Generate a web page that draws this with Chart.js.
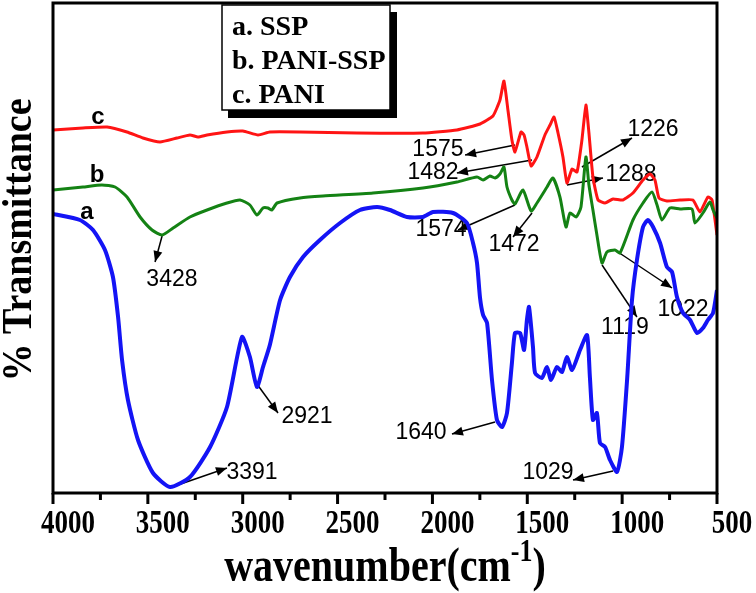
<!DOCTYPE html>
<html>
<head>
<meta charset="utf-8">
<script src="https://cdn.jsdelivr.net/npm/chart.js@4"></script>
<style>
  body { margin: 0; background: #fff; }
  canvas { display: block; }
</style>
</head>
<body>
<canvas id="myChart" width="756" height="593"></canvas>
<script>
// a. SSP (blue)
const waveA = [4000,3858,3789,3726,3684,3657,3636,3605,3552,3473,3383,3278,3172,3083,3004,2962,2925,2893,2857,2803,2751,2682,2593,2487,2382,2292,2224,2134,2050,1997,1892,1818,1786,1765,1749,1733,1712,1686,1660,1633,1607,1581,1565,1538,1517,1502,1491,1470,1459,1423,1396,1375,1344,1317,1291,1264,1222,1185,1170,1154,1133,1117,1090,1064,1027,1001,974,948,922,890,864,837,800,764,737,711,679,642,605,574,548,521,500];
const transA = [279,273,263,243,216,176,133,93,53,20,6,16,46,86,156,136,106,126,148,193,216,236,253,270,283,286,283,276,276,281,280,270,250,230,195,178,170,113,73,66,80,130,160,160,143,173,186,146,120,115,126,113,126,121,136,123,143,158,116,73,80,50,46,33,21,46,113,193,233,266,273,266,250,226,221,196,180,173,160,165,173,180,203];

// b. PANI-SSP (green)
const waveB = [4000,3842,3742,3673,3610,3541,3478,3425,3367,3278,3188,3083,3014,2962,2925,2893,2867,2846,2819,2698,2577,2313,2050,1871,1765,1733,1697,1670,1644,1623,1607,1581,1565,1523,1480,1449,1396,1365,1328,1296,1275,1243,1217,1191,1175,1154,1133,1106,1080,1038,1011,943,890,843,816,790,748,695,632,616,574,537,521,500];
const transB = [303,306,308,306,296,276,263,258,265,276,283,290,293,288,278,285,285,283,290,295,297,300,305,311,316,313,317,315,319,326,306,293,289,303,282,290,306,315,296,266,280,276,286,336,308,283,258,230,241,243,240,273,290,301,288,273,285,284,284,270,280,291,283,275];

// c. PANI (red)
const waveC = [4000,3842,3715,3610,3526,3436,3346,3278,3236,3188,3083,2999,2919,2857,2698,2398,2050,1871,1749,1681,1644,1623,1602,1581,1565,1533,1517,1502,1480,1449,1407,1380,1359,1338,1312,1291,1264,1238,1212,1191,1175,1154,1127,1090,1048,996,943,890,853,827,806,764,695,627,590,548,526,500];
const transC = [363,365,366,361,355,351,355,358,356,358,361,362,358,361,361,360,360,363,369,377,393,412,383,353,341,361,358,346,327,336,358,368,376,360,336,310,324,321,353,388,360,316,293,290,294,293,300,313,319,313,295,292,293,293,281,296,293,258];

const legendNames = ['a. SSP', 'b. PANI-SSP', 'c. PANI'];
const xTickLabels = [4000, 3500, 3000, 2500, 2000, 1500, 1000, 500];
const xMinorTicks = [3750, 3250, 2750, 2250, 1750, 1250, 750];

// peak labels: text, arrow start (wn, T), arrow end (wn, T), text centre (wn, T)
const peakLabels = ['3428','3391','2921','1640','1029','1119','1022','1575','1482','1226','1288','1574','1472'];
const peakArrows = [
  [3425,257, 3462,231, 3373,213],
  [3373,6,   3083,25,  2951,20],
  [2925,109, 2814,80,  2661,76],
  [1670,71,  1897,59,  2060,60],
  [1048,22,  1259,13,  1391,20],
  [1106,228, 922,176,  985,165],
  [1038,243, 737,205,  679,183],
  [1565,348, 1828,338, 1971,343],
  [1475,333, 1871,320, 1997,320],
  [1212,326, 948,355,  837,363],
  [1291,308, 1101,315, 953,318],
  [1565,288, 1865,263, 1955,263],
  [1475,280, 1575,256, 1570,248]
];
const curveLetters = ['a', 'b', 'c'];
const letterPos = [[3821,281], [3768,318], [3763,376]];

function toXY(wave, vals) {
  return wave.map((w, i) => ({ x: w, y: vals[i] }));
}

function stretchText(ctx, txt, x, y, sy) {
  ctx.save();
  ctx.translate(x, y);
  ctx.scale(1, sy);
  ctx.fillText(txt, 0, 0);
  ctx.restore();
}

function arrow(ctx, x1, y1, x2, y2) {
  ctx.beginPath();
  ctx.moveTo(x1, y1);
  ctx.lineTo(x2, y2);
  ctx.lineWidth = 1.5;
  ctx.stroke();
  const a = Math.atan2(y2 - y1, x2 - x1);
  const L = 11, W = 4.5;
  ctx.beginPath();
  ctx.moveTo(x2, y2);
  ctx.lineTo(x2 - L * Math.cos(a) + W * Math.sin(a), y2 - L * Math.sin(a) - W * Math.cos(a));
  ctx.lineTo(x2 - L * Math.cos(a) - W * Math.sin(a), y2 - L * Math.sin(a) + W * Math.cos(a));
  ctx.closePath();
  ctx.fill();
}

const decor = {
  id: 'decor',
  beforeDatasetsDraw(chart) {
    const ctx = chart.ctx;
    const xs = chart.scales.x, ys = chart.scales.y;
    ctx.save();
    ctx.fillStyle = '#000';
    ctx.strokeStyle = '#000';
    ctx.font = "23px 'Liberation Sans', Arial, sans-serif";
    ctx.textAlign = 'center';
    ctx.textBaseline = 'middle';
    peakLabels.forEach((lab, i) => {
      const p = peakArrows[i];
      ctx.fillText(lab, xs.getPixelForValue(p[4]), ys.getPixelForValue(p[5]));
    });
    peakLabels.forEach((lab, i) => {
      const p = peakArrows[i];
      arrow(ctx, xs.getPixelForValue(p[0]), ys.getPixelForValue(p[1]),
        xs.getPixelForValue(p[2]), ys.getPixelForValue(p[3]));
    });
    ctx.font = "bold 24px 'Liberation Sans', Arial, sans-serif";
    curveLetters.forEach((l, i) => {
      ctx.fillText(l, xs.getPixelForValue(letterPos[i][0]), ys.getPixelForValue(letterPos[i][1]));
    });
    ctx.restore();
  },
  afterDatasetsDraw(chart) {
    const ctx = chart.ctx;
    const ca = chart.chartArea;
    const xs = chart.scales.x;
    ctx.save();
    ctx.strokeStyle = '#000';
    ctx.fillStyle = '#000';

    // frame
    ctx.lineWidth = 3;
    ctx.strokeRect(ca.left, ca.top, ca.right - ca.left, ca.bottom - ca.top);

    // tick marks
    xTickLabels.forEach(v => {
      const px = xs.getPixelForValue(v);
      ctx.beginPath(); ctx.moveTo(px, ca.bottom); ctx.lineTo(px, ca.bottom + 11); ctx.stroke();
    });
    xMinorTicks.forEach(v => {
      const px = xs.getPixelForValue(v);
      ctx.beginPath(); ctx.moveTo(px, ca.bottom); ctx.lineTo(px, ca.bottom + 7); ctx.stroke();
    });

    // tick labels
    ctx.font = "bold 27px 'Liberation Serif', 'Times New Roman', serif";
    ctx.textAlign = 'center';
    ctx.textBaseline = 'alphabetic';
    xTickLabels.forEach(v => {
      stretchText(ctx, String(v), xs.getPixelForValue(v) + 15, ca.bottom + 40, 1.22);
    });

    // x title with superscript
    const mainFont = "bold 40px 'Liberation Serif', 'Times New Roman', serif";
    const supFont = "bold 26px 'Liberation Serif', 'Times New Roman', serif";
    ctx.font = mainFont;
    const w1 = ctx.measureText('wavenumber(cm').width;
    const w3 = ctx.measureText(')').width;
    ctx.font = supFont;
    const w2 = ctx.measureText('-1').width;
    let tx = (ca.left + ca.right) / 2 - (w1 + w2 + w3) / 2;
    const base = ca.bottom + 88;
    ctx.textAlign = 'left';
    ctx.save();
    ctx.translate(tx, base);
    ctx.scale(1, 1.2);
    ctx.font = mainFont;
    ctx.fillText('wavenumber(cm', 0, 0);
    ctx.font = supFont;
    ctx.fillText('-1', w1, -17);
    ctx.font = mainFont;
    ctx.fillText(')', w1 + w2, 0);
    ctx.restore();

    // y title
    ctx.save();
    ctx.translate(20, 240);
    ctx.rotate(-Math.PI / 2);
    ctx.scale(1, 1.1);
    ctx.font = "bold 38px 'Liberation Serif', 'Times New Roman', serif";
    ctx.textAlign = 'center';
    ctx.textBaseline = 'middle';
    ctx.fillText('% Transmittance', 0, 0);
    ctx.restore();

    // legend box with shadow
    const lx = ca.left + 169, ly = ca.top + 2, lw = 168, lh = 105;
    ctx.fillStyle = '#000';
    ctx.fillRect(lx + 6, ly + 7, lw + 1, lh + 1);
    ctx.fillStyle = '#fff';
    ctx.fillRect(lx, ly, lw, lh);
    ctx.lineWidth = 1.5;
    ctx.strokeRect(lx, ly, lw, lh);
    ctx.fillStyle = '#000';
    ctx.font = "bold 28px 'Liberation Serif', 'Times New Roman', serif";
    ctx.textAlign = 'left';
    ctx.textBaseline = 'alphabetic';
    legendNames.forEach((n, i) => {
      ctx.fillText(n, lx + 10, ly + 30 + i * 34);
    });
    ctx.restore();
  }
};

new Chart(document.getElementById('myChart').getContext('2d'), {
  type: 'line',
  data: {
    datasets: [
      {
        label: legendNames[0],
        data: toXY(waveA, transA),
        borderColor: 'rgb(20, 20, 245)',
        borderWidth: 4,
        pointRadius: 0,
        tension: 0.2,
        fill: false
      },
      {
        label: legendNames[1],
        data: toXY(waveB, transB),
        borderColor: 'rgb(20, 130, 20)',
        borderWidth: 3,
        pointRadius: 0,
        tension: 0.2,
        fill: false
      },
      {
        label: legendNames[2],
        data: toXY(waveC, transC),
        borderColor: 'rgb(255, 20, 20)',
        borderWidth: 3,
        pointRadius: 0,
        tension: 0.15,
        fill: false
      }
    ]
  },
  options: {
    responsive: false,
    animation: false,
    layout: { padding: { left: 53, right: 39, top: 3, bottom: 100 } },
    plugins: {
      legend: { display: false },
      tooltip: { enabled: false }
    },
    scales: {
      x: { type: 'linear', reverse: true, min: 500, max: 4000, display: false },
      y: { type: 'linear', min: 0, max: 490, display: false }
    }
  },
  plugins: [decor]
});
</script>
</body>
</html>
